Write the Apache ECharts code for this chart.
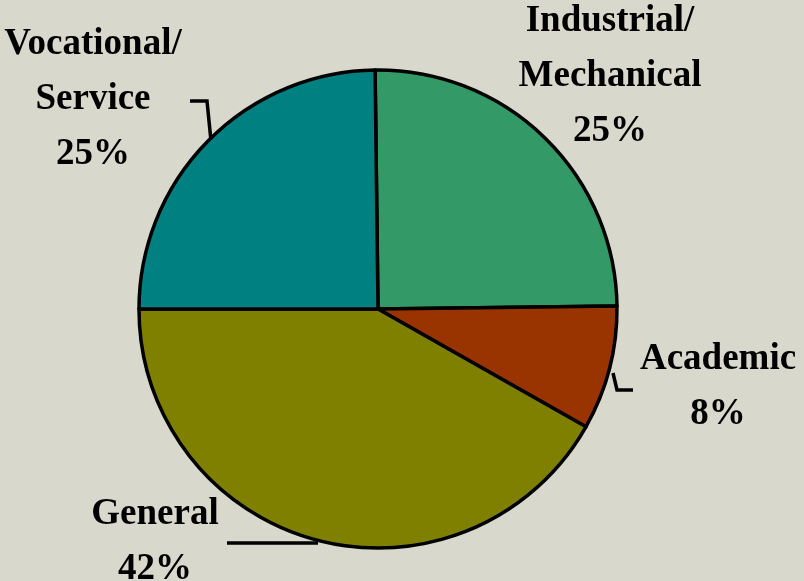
<!DOCTYPE html>
<html><head><meta charset="utf-8">
<script src="https://cdn.jsdelivr.net/npm/echarts@6/dist/echarts.min.js"></script>
<style>html,body{margin:0;padding:0;background:#d9d8cc;}#c{width:804px;height:581px;}</style>
</head><body><div id="c"></div>
<script>
const categories = ['Industrial/\nMechanical', 'Academic', 'General', 'Vocational/\nService'];
const values = [25, 8.4, 41.8, 24.8];
const colors = ['#339966', '#993300', '#808000', '#008080'];

const labelPos = [[610, 76], [718, 387], [155, 542], [93, 99]];
const linePts = [null, [[613,373],[617,390],[633,390]], [[318,543],[272,543],[227,543]], [[211,141],[207,101],[190,101]]];

const chart = echarts.init(document.getElementById('c'));
chart.setOption({
  backgroundColor: '#d9d8cc',
  animation: false,
  series: [{
    type: 'pie',
    center: [378, 309],
    radius: 239,
    startAngle: 90.7,
    clockwise: true,
    avoidLabelOverlap: false,
    data: categories.map((n, i) => ({
      name: n, value: values[i],
      itemStyle: { color: colors[i] },
      labelLine: { show: i !== 0 }
    })),
    itemStyle: { borderColor: '#000', borderWidth: 3.5 },
    label: {
      show: true,
      position: 'outside',
      formatter: p => p.name + '\n' + Math.round(p.percent) + '%',
      fontFamily: '"Liberation Serif","Times New Roman",serif',
      fontWeight: 'bold',
      fontSize: 37,
      lineHeight: 55,
      color: '#000',
      align: 'center'
    },
    labelLine: { lineStyle: { color: '#000', width: 3.5 } },
    labelLayout: function (params) {
      const i = params.dataIndex;
      const o = { x: labelPos[i][0], y: labelPos[i][1], align: 'center', verticalAlign: 'middle' };
      if (linePts[i]) o.labelLinePoints = linePts[i];
      return o;
    }
  }]
});
</script></body></html>
